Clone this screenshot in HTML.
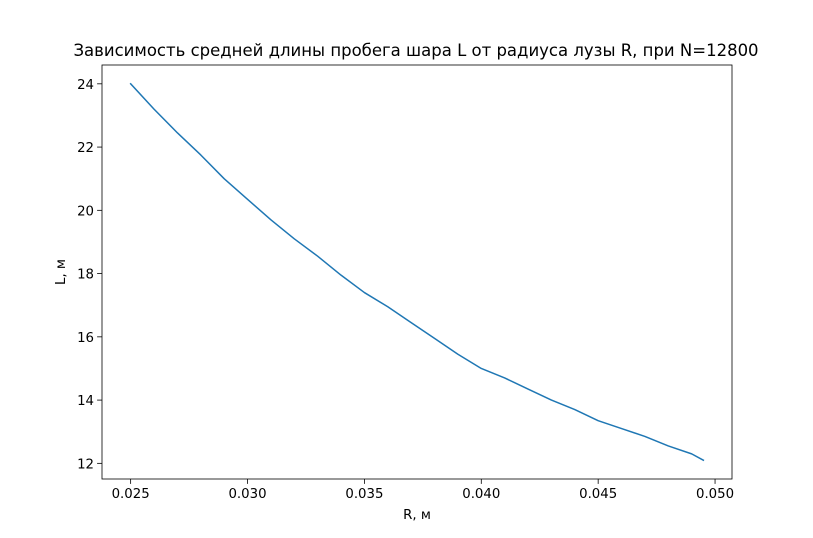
<!DOCTYPE html>
<html><head><meta charset="utf-8"><style>
body{margin:0;background:#fff;}
svg{display:block;font-family:"DejaVu Sans","Liberation Sans",sans-serif;}
</style></head><body>
<svg id="chart" width="813" height="538"></svg>
<script>
const rValues=[0.025,0.026,0.027,0.028,0.029,0.030,0.031,0.032,0.033,0.034,0.035,0.036,0.037,0.038,0.039,0.040,0.041,0.042,0.043,0.044,0.045,0.046,0.047,0.048,0.049,0.0495];
const lValues=[24.0,23.2,22.45,21.75,21.0,20.35,19.7,19.1,18.55,17.95,17.4,16.95,16.45,15.95,15.45,15.0,14.7,14.35,14.0,13.7,13.35,13.1,12.85,12.55,12.3,12.1];
const xTicks=[0.025,0.030,0.035,0.040,0.045,0.050];
const xTickLabels=["0.025","0.030","0.035","0.040","0.045","0.050"];
const yTicks=[12,14,16,18,20,22,24];
const yTickLabels=["12","14","16","18","20","22","24"];

const NS="http://www.w3.org/2000/svg";
const svg=document.getElementById('chart');
const L=102,R=732,T=65,B=479;
const xmin=0.023775,xmax=0.050725,ymin=11.505,ymax=24.595;
const sx=v=>L+(v-xmin)/(xmax-xmin)*(R-L);
const sy=v=>B-(v-ymin)/(ymax-ymin)*(B-T);
function mk(tag,attrs,parent){const e=document.createElementNS(NS,tag);for(const k in attrs)e.setAttribute(k,attrs[k]);(parent||svg).appendChild(e);return e;}

let t=mk('text',{x:416,y:56,'text-anchor':'middle','font-size':'16.5',fill:'#000'});


t.textContent='Зависимость средней длины пробега шара L от радиуса лузы R, при N=12800';

xTicks.forEach((v,i)=>{
  const x=sx(v);
  const l=mk('line',{x1:x,x2:x,y1:B,y2:B+4.9,stroke:'#000','stroke-width':0.8});
  
  
  const tx=mk('text',{x:x,y:B+19,'text-anchor':'middle','font-size':'13.3',fill:'#000'});
  
  
  tx.textContent=xTickLabels[i];
});
yTicks.forEach((v,i)=>{
  const y=sy(v);
  const l=mk('line',{x1:L-4.9,x2:L,y1:y,y2:y,stroke:'#000','stroke-width':0.8});
  
  
  const tx=mk('text',{x:L-8,y:y+5,'text-anchor':'end','font-size':'13.3',fill:'#000'});
  
  
  tx.textContent=yTickLabels[i];
});

const pts=rValues.map((v,i)=>sx(v).toFixed(2)+','+sy(lValues[i]).toFixed(2)).join(' ');
const line=mk('polyline',{points:pts,fill:'none',stroke:'#1f77b4','stroke-width':1.5,'stroke-linejoin':'round','stroke-linecap':'square'});



const frame=mk('rect',{x:L,y:T,width:R-L,height:B-T,fill:'none',stroke:'#000','stroke-width':0.8});



const xl=mk('text',{x:(L+R)/2,y:519,'text-anchor':'middle','font-size':'13.3',fill:'#000'});


xl.textContent='R, м';
const yl=mk('text',{x:65,y:(T+B)/2,'text-anchor':'middle','font-size':'13.3',fill:'#000',transform:'rotate(-90 65 '+((T+B)/2)+')'});


yl.textContent='L, м';
</script>
</body></html>
